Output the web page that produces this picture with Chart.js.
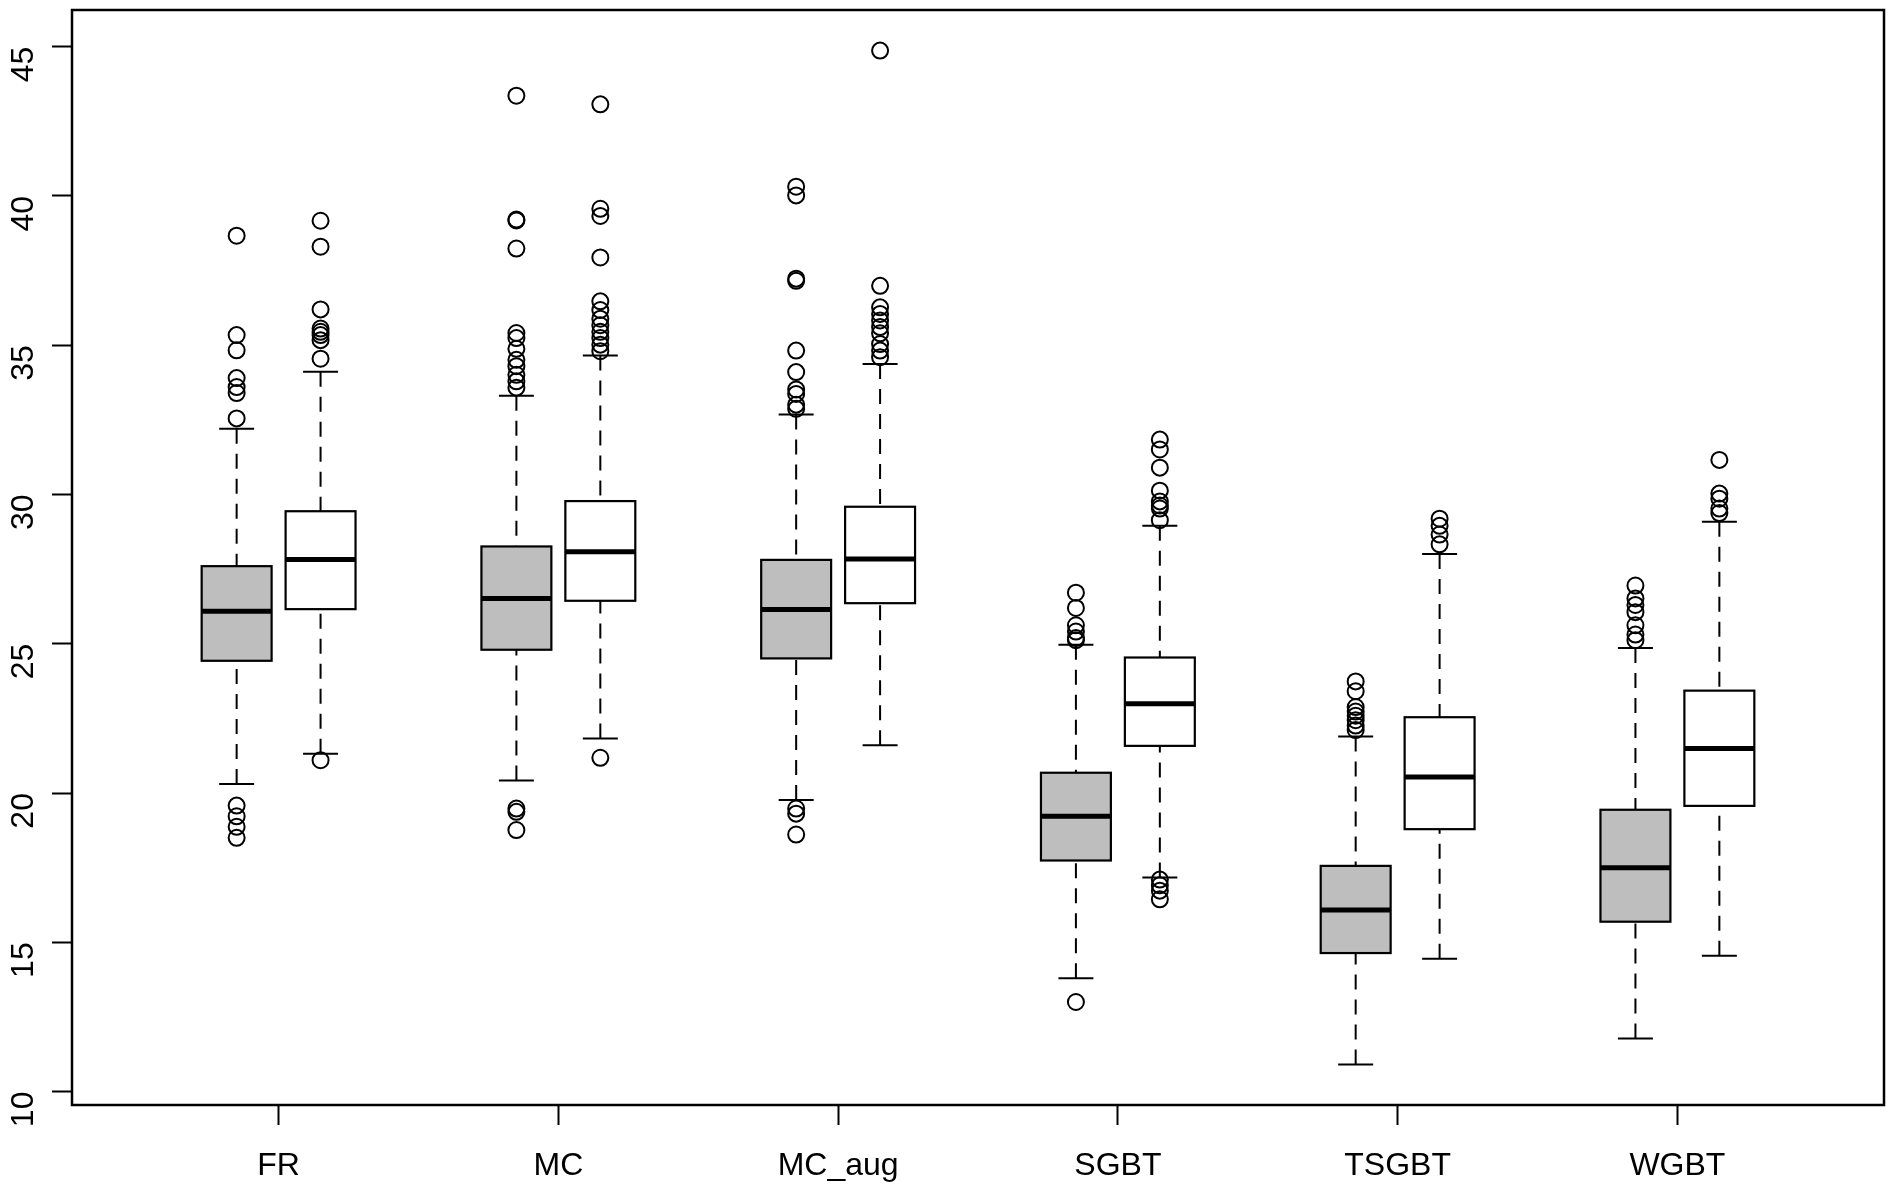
<!DOCTYPE html>
<html>
<head>
<meta charset="utf-8">
<script src="https://cdn.jsdelivr.net/npm/chart.js@4.4.1/dist/chart.umd.min.js"></script>
<style>
  html, body { margin: 0; padding: 0; background: #ffffff; }
  #wrap { width: 1894px; height: 1188px; }
</style>
</head>
<body>
<div id="wrap"><canvas id="c" width="1894" height="1188"></canvas></div>
<script>
// ---------- data ----------
const categories = ['FR', 'MC', 'MC_aug', 'SGBT', 'TSGBT', 'WGBT'];
const yTickValues = [10, 15, 20, 25, 30, 35, 40, 45];

// gray (first) boxes
const grayLower  = [20.30, 20.42, 19.77, 13.80, 10.91, 11.78];
const grayQ1     = [24.43, 24.80, 24.51, 17.74, 14.64, 15.69];
const grayMedian = [26.09, 26.52, 26.15, 19.22, 16.08, 17.50];
const grayQ3     = [27.60, 28.26, 27.81, 20.68, 17.56, 19.44];
const grayUpper  = [32.20, 33.31, 32.68, 24.97, 21.89, 24.86];
const grayOutliers = [
  [38.67, 35.34, 34.83, 33.90, 33.60, 33.40, 32.55, 19.58, 19.22, 18.87, 18.50],
  [43.36, 39.21, 39.18, 38.24, 35.41, 35.24, 34.88, 34.51, 34.30, 34.01, 33.79, 33.58, 19.48, 19.37, 18.76],
  [40.31, 40.02, 37.23, 37.16, 34.82, 34.10, 33.52, 33.37, 33.01, 32.87, 19.48, 19.31, 18.61],
  [26.71, 26.20, 25.62, 25.41, 25.19, 25.12, 13.00],
  [23.74, 23.41, 22.88, 22.73, 22.59, 22.44, 22.26, 22.11],
  [26.95, 26.52, 26.30, 26.06, 25.62, 25.31, 25.12]
];

// white (second) boxes
const whiteLower  = [21.32, 21.83, 21.60, 17.17, 14.45, 14.55];
const whiteQ1     = [26.16, 26.44, 26.36, 21.58, 18.79, 19.57];
const whiteMedian = [27.82, 28.08, 27.84, 22.99, 20.54, 21.49];
const whiteQ3     = [29.44, 29.78, 29.59, 24.54, 22.54, 23.43];
const whiteUpper  = [34.11, 34.66, 34.37, 28.95, 28.01, 29.09];
const whiteOutliers = [
  [39.17, 38.30, 36.20, 35.56, 35.45, 35.34, 35.17, 34.55, 21.10],
  [43.07, 39.57, 39.33, 37.94, 36.47, 36.18, 35.89, 35.67, 35.45, 35.24, 35.02, 34.80, 21.18],
  [44.87, 36.99, 36.27, 36.05, 35.83, 35.61, 35.40, 35.04, 34.82, 34.60],
  [31.84, 31.51, 30.90, 30.13, 29.77, 29.63, 29.53, 29.14, 17.10, 16.91, 16.73, 16.44],
  [29.19, 28.95, 28.66, 28.33],
  [31.16, 30.03, 29.86, 29.53, 29.38]
];

// ---------- helpers ----------
const GRAY_OFFSET = -0.15, WHITE_OFFSET = 0.15;
const BOX_HALF = 0.125, CAP_HALF = 0.0625;

function outlierPoints(list, offset) {
  const pts = [];
  list.forEach((vals, i) => vals.forEach(v => pts.push({ x: i + 1 + offset, y: v })));
  return pts;
}

const groups = [
  { offset: GRAY_OFFSET, fill: '#bebebe', lower: grayLower, q1: grayQ1, med: grayMedian, q3: grayQ3, upper: grayUpper },
  { offset: WHITE_OFFSET, fill: '#ffffff', lower: whiteLower, q1: whiteQ1, med: whiteMedian, q3: whiteQ3, upper: whiteUpper }
];

const boxPlugin = {
  id: 'boxes',
  beforeDatasetsDraw(chart) {
    const { ctx, scales: { x, y } } = chart;
    ctx.save();
    groups.forEach(g => {
      categories.forEach((c, i) => {
        const pos = i + 1 + g.offset;
        const xc = x.getPixelForValue(pos);
        const xl = x.getPixelForValue(pos - BOX_HALF);
        const xr = x.getPixelForValue(pos + BOX_HALF);
        const cl = x.getPixelForValue(pos - CAP_HALF);
        const cr = x.getPixelForValue(pos + CAP_HALF);
        const yLo = y.getPixelForValue(g.lower[i]);
        const yQ1 = y.getPixelForValue(g.q1[i]);
        const yMd = y.getPixelForValue(g.med[i]);
        const yQ3 = y.getPixelForValue(g.q3[i]);
        const yUp = y.getPixelForValue(g.upper[i]);
        ctx.strokeStyle = '#000';
        // whiskers (dashed)
        ctx.lineWidth = 2;
        ctx.setLineDash([15, 10]);
        ctx.beginPath();
        ctx.moveTo(xc, yLo); ctx.lineTo(xc, yQ1);
        ctx.moveTo(xc, yUp); ctx.lineTo(xc, yQ3);
        ctx.stroke();
        ctx.setLineDash([]);
        // caps
        ctx.beginPath();
        ctx.moveTo(cl, yLo); ctx.lineTo(cr, yLo);
        ctx.moveTo(cl, yUp); ctx.lineTo(cr, yUp);
        ctx.stroke();
        // box
        ctx.fillStyle = g.fill;
        ctx.fillRect(xl, yQ3, xr - xl, yQ1 - yQ3);
        ctx.lineWidth = 2.2;
        ctx.strokeRect(xl, yQ3, xr - xl, yQ1 - yQ3);
        // median
        ctx.lineWidth = 5;
        ctx.beginPath();
        ctx.moveTo(xl, yMd); ctx.lineTo(xr, yMd);
        ctx.stroke();
      });
    });
    ctx.restore();
  },
  afterDraw(chart) {
    const { ctx, chartArea: a } = chart;
    ctx.save();
    ctx.strokeStyle = '#000';
    ctx.lineWidth = 2.5;
    ctx.strokeRect(a.left, a.top, a.right - a.left, a.bottom - a.top);
    ctx.restore();
  }
};

const pointStyle = {
  type: 'scatter',
  pointStyle: 'circle',
  pointRadius: 8,
  pointHoverRadius: 8,
  pointBorderWidth: 2,
  pointBorderColor: '#000',
  pointBackgroundColor: 'rgba(0,0,0,0)',
  showLine: false
};

const FONT = { family: 'Liberation Sans, Arial, Helvetica, sans-serif', size: 32 };

new Chart(document.getElementById('c'), {
  type: 'scatter',
  data: {
    datasets: [
      Object.assign({ label: 'gray outliers', data: outlierPoints(grayOutliers, GRAY_OFFSET) }, pointStyle),
      Object.assign({ label: 'white outliers', data: outlierPoints(whiteOutliers, WHITE_OFFSET) }, pointStyle)
    ]
  },
  options: {
    responsive: false,
    devicePixelRatio: 1,
    animation: false,
    layout: { padding: { top: 5, right: 8, left: 0, bottom: 0 } },
    plugins: { legend: { display: false }, tooltip: { enabled: false } },
    scales: {
      x: {
        type: 'linear',
        min: 0.2615,
        max: 6.7385,
        afterBuildTicks: s => { s.ticks = categories.map((c, i) => ({ value: i + 1 })); },
        afterFit: s => { s.height = 83; s.paddingLeft = 0; s.paddingRight = 0; },
        ticks: {
          callback: v => categories[Math.round(v) - 1] || '',
          color: '#000',
          font: FONT,
          padding: 22,
          maxRotation: 0,
          minRotation: 0,
          autoSkip: false
        },
        grid: { drawOnChartArea: false, drawTicks: true, tickLength: 20, tickWidth: 2, tickColor: '#000' },
        border: { display: false }
      },
      y: {
        type: 'linear',
        min: 9.55,
        max: 46.23,
        afterBuildTicks: s => { s.ticks = yTickValues.map(v => ({ value: v })); },
        afterFit: s => { s.width = 72; s.paddingTop = 0; s.paddingBottom = 0; },
        ticks: {
          callback: v => String(v),
          color: '#000',
          font: FONT,
          padding: 28,
          minRotation: 90,
          maxRotation: 90,
          autoSkip: false
        },
        grid: { drawOnChartArea: false, drawTicks: true, tickLength: 20, tickWidth: 2, tickColor: '#000' },
        border: { display: false }
      }
    }
  },
  plugins: [boxPlugin]
});
</script>
</body>
</html>
